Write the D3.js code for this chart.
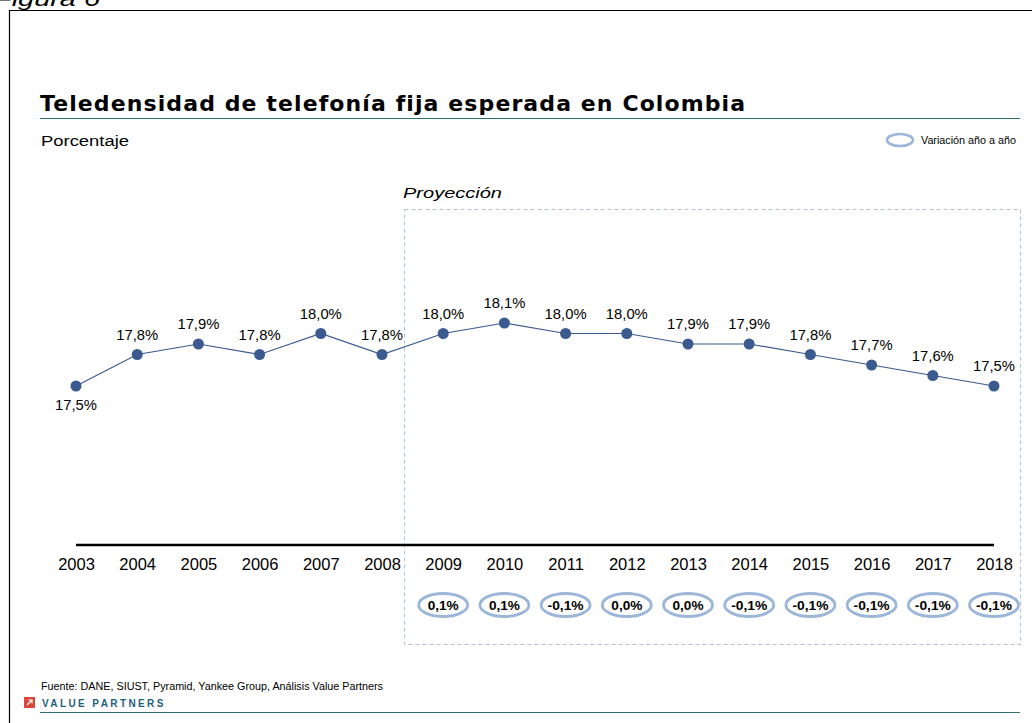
<!DOCTYPE html>
<html>
<head>
<meta charset="utf-8">
<script src="https://cdn.jsdelivr.net/npm/d3@7"></script>
<style>
  body { margin: 0; background: #fff; }
  svg { display: block; font-family: Arial, "Liberation Sans", sans-serif; }
</style>
</head>
<body>
<div id="chart"></div>
<script>
const years = ["2003", "2004", "2005", "2006", "2007", "2008", "2009", "2010", "2011", "2012", "2013", "2014", "2015", "2016", "2017", "2018"]
const teledensidad = [17.5, 17.8, 17.9, 17.8, 18.0, 17.8, 18.0, 18.1, 18.0, 18.0, 17.9, 17.9, 17.8, 17.7, 17.6, 17.5]
const projectionYears = ["2009", "2010", "2011", "2012", "2013", "2014", "2015", "2016", "2017", "2018"]
const variacion = ["0,1%", "0,1%", "-0,1%", "0,0%", "0,0%", "-0,1%", "-0,1%", "-0,1%", "-0,1%", "-0,1%"]

const W = 1032, H = 723
const teal = "#2f6f73", lineBlue = "#3b5a8f", ringBlue = "#9bb6d8"
const fmt = v => v.toFixed(1).replace(".", ",") + "%"

const svg = d3.select("#chart").append("svg").attr("width", W).attr("height", H)

// wide text helper: the source stretches some labels horizontally
function stretched(sel, len) {
    return sel.attr("textLength", len).attr("lengthAdjust", "spacingAndGlyphs")
}

// frame
svg.append("path").attr("d", `M9.5,${H} V10.5 H${W}`).attr("fill", "none").attr("stroke", "#000").attr("stroke-width", 1.2)
stretched(svg.append("text").attr("x", -6).attr("y", 6).attr("font-size", 20).attr("font-style", "italic").text("Figura 6"), 106)

// title block
svg.append("text").attr("x", 40).attr("y", 111)
    .attr("font-family", "'DejaVu Sans', Verdana, sans-serif").attr("font-weight", "bold")
    .attr("font-size", 22).attr("letter-spacing", 1.1)
    .text("Teledensidad de telefonía fija esperada en Colombia")
svg.append("line").attr("x1", 40).attr("x2", 1020).attr("y1", 118.5).attr("y2", 118.5).attr("stroke", teal).attr("stroke-width", 1)
stretched(svg.append("text").attr("x", 41).attr("y", 145.5).attr("font-size", 15.5).text("Porcentaje"), 88)

// legend
svg.append("ellipse").attr("cx", 900).attr("cy", 140).attr("rx", 13).attr("ry", 6).attr("fill", "none").attr("stroke", ringBlue).attr("stroke-width", 2.5)
stretched(svg.append("text").attr("x", 921).attr("y", 144).attr("font-size", 10.5).text("Variación año a año"), 95)

// scales
const x = d3.scalePoint().domain(years).range([76, 994])
const y = d3.scaleLinear().domain([16, 18.1]).range([543.5, 323])

// projection box
svg.append("rect").attr("x", 404.5).attr("y", 209.5).attr("width", 616).attr("height", 435)
    .attr("fill", "none").attr("stroke", "#a9c3e0").attr("stroke-width", 1).attr("stroke-dasharray", "4,3")
stretched(svg.append("text").attr("x", 403).attr("y", 198).attr("font-size", 15.5).attr("font-style", "italic").text("Proyección"), 99)

// x axis
const xAxis = svg.append("g").attr("transform", "translate(0,545)")
    .call(d3.axisBottom(x).tickSize(0).tickPadding(13))
xAxis.select(".domain").attr("d", `M${x("2003")},0H${x("2018")}`).attr("stroke", "#000").attr("stroke-width", 2.5)
xAxis.selectAll("text").attr("font-size", 16.5).attr("font-family", "Arial, 'Liberation Sans', sans-serif").attr("fill", "#000")

// line + points
const data = years.map((yr, i) => ({ yr, v: teledensidad[i] }))
svg.append("path").datum(data)
    .attr("d", d3.line().x(d => x(d.yr)).y(d => y(d.v)))
    .attr("fill", "none").attr("stroke", lineBlue).attr("stroke-width", 1.2)
svg.selectAll("circle.pt").data(data).enter().append("circle").attr("class", "pt")
    .attr("cx", d => x(d.yr)).attr("cy", d => y(d.v)).attr("r", 5.5).attr("fill", lineBlue)
svg.selectAll("text.lbl").data(data).enter().append("text").attr("class", "lbl")
    .attr("x", d => x(d.yr))
    .attr("y", (d, i) => i === 0 ? y(d.v) + 24 : y(d.v) - 15)
    .attr("text-anchor", "middle").attr("font-size", 14.8)
    .text(d => fmt(d.v))

// variation rings
const vg = svg.selectAll("g.var").data(projectionYears.map((yr, i) => ({ yr, t: variacion[i] })))
    .enter().append("g").attr("class", "var").attr("transform", d => `translate(${x(d.yr)},605)`)
vg.append("ellipse").attr("rx", 24.5).attr("ry", 11.5).attr("fill", "none").attr("stroke", ringBlue).attr("stroke-width", 2.8)
vg.append("text").attr("y", 4.5).attr("text-anchor", "middle").attr("font-size", 12).attr("font-weight", "bold")
    .attr("textLength", d => d.t.startsWith("-") ? 36 : 31).attr("lengthAdjust", "spacingAndGlyphs")
    .text(d => d.t)

// footer
stretched(svg.append("text").attr("x", 41).attr("y", 690).attr("font-size", 10).text("Fuente: DANE, SIUST, Pyramid, Yankee Group, Análisis Value Partners"), 342)
svg.append("rect").attr("x", 24).attr("y", 697).attr("width", 11).attr("height", 11).attr("fill", "#d9473b")
svg.append("path").attr("d", "M27,705 L32,700 M28.5,700 H32 V703.5").attr("fill", "none").attr("stroke", "#fff").attr("stroke-width", 1.2)
svg.append("text").attr("x", 42).attr("y", 706.5).attr("font-size", 10).attr("letter-spacing", 2.4)
    .attr("fill", "#1f5f7a").attr("font-weight", "bold").text("VALUE PARTNERS")
svg.append("line").attr("x1", 40).attr("x2", 1020).attr("y1", 712.5).attr("y2", 712.5).attr("stroke", teal).attr("stroke-width", 1)
</script>
</body>
</html>
